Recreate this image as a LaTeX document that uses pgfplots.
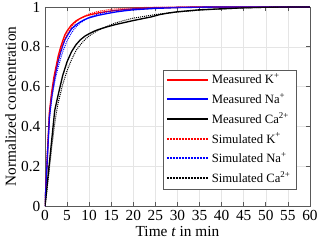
\documentclass[border=0pt]{standalone}
\usepackage{pgfplots}
\pgfplotsset{compat=1.18}
\usepackage{fontspec}
\setmainfont{Liberation Serif}
\newcommand\legsolid[1]{\draw[draw=#1, line width=1.5pt] (0pt,0pt) -- (31pt,0pt);}
\newcommand\legdot[1]{\draw[draw=#1, line width=1.5pt, dash pattern=on 1.5pt off 0.75pt] (0pt,0pt) -- (31pt,0pt);}
\begin{document}
\begin{tikzpicture}[x=1pt,y=1pt]
\begin{axis}[
  scale only axis,
  width=198.75pt, height=149.25pt,
  xmin=0, xmax=60, ymin=0, ymax=1,
  xtick={0,5,...,60}, ytick={0,0.2,...,1},
  yticklabels={0,0.2,0.4,0.6,0.8,1},
  /pgf/number format/assume math mode=true,
  tick align=inside, tick pos=both,
  major tick length=3pt,
  grid=major,
  major grid style={gray!20, line width=0.4pt},
  axis line style={gray!70!black, line width=0.5pt},
  tick style={gray!70!black, line width=0.5pt},
  ticklabel style={font=\fontsize{11.5}{13}\selectfont},
  label style={font=\fontsize{11.5}{13}\selectfont},
  xlabel={Time \textit{t} in min},
  ylabel={Normalized concentration},
  xlabel style={yshift=3pt},
  ylabel style={yshift=-3pt},
  legend cell align=left,
  legend style={at={(0.9475,0.085)}, anchor=south east, font=\fontsize{9.5}{11}\selectfont,
    draw=gray!70!black, row sep=1.5pt, inner xsep=2pt, inner ysep=1pt},
]
\addplot[color=red, solid, line width=1pt, legend image code/.code={\legsolid{red}}] coordinates {
(0,0) (1,0.47) (1.5,0.57) (2,0.645) (2.5,0.70) (3,0.755) (3.5,0.795) (4,0.83) (4.5,0.86) (5,0.88) (6,0.91) (7,0.93) (8,0.943) (9,0.953) (10,0.96) (12,0.97) (14,0.977) (16,0.983) (18,0.987) (20,0.99) (25,0.995) (30,0.998) (35,1) (60,1)};
\addlegendentry{Measured K\textsuperscript{+}}
\addplot[color=blue, solid, line width=1pt, legend image code/.code={\legsolid{blue}}] coordinates {
(0,0) (1,0.45) (1.5,0.55) (2,0.62) (2.5,0.68) (3,0.73) (3.5,0.77) (4,0.805) (4.5,0.835) (5,0.855) (6,0.89) (7,0.91) (8,0.925) (9,0.937) (10,0.946) (12,0.958) (14,0.967) (16,0.975) (18,0.981) (20,0.986) (25,0.993) (30,0.997) (35,0.999) (40,1) (60,1)};
\addlegendentry{Measured Na\textsuperscript{+}}
\addplot[color=black, solid, line width=1pt, legend image code/.code={\legsolid{black}}] coordinates {
(0,0) (2.2,0.48) (3,0.56) (4,0.655) (5,0.725) (6,0.775) (7,0.81) (8,0.835) (9,0.853) (10,0.866) (11,0.877) (12,0.886) (14,0.9) (16,0.912) (18,0.922) (20,0.932) (22,0.941) (24,0.95) (26,0.962) (28,0.97) (30,0.976) (35,0.986) (40,0.991) (45,0.996) (50,0.999) (55,1) (60,1)};
\addlegendentry{Measured Ca\textsuperscript{2+}}
\addplot[color=red, dash pattern=on 0.75pt off 0.75pt, line width=0.75pt, legend image code/.code={\legdot{red}}] coordinates {
(0,0) (0.5,0.27) (1,0.46) (1.5,0.56) (2,0.635) (2.5,0.69) (3,0.74) (4,0.815) (5,0.865) (6,0.90) (7,0.925) (8,0.943) (10,0.965) (12,0.978) (15,0.989) (20,0.996) (25,0.999) (30,1) (60,1)};
\addlegendentry{Simulated K\textsuperscript{+}}
\addplot[color=blue, dash pattern=on 0.75pt off 0.75pt, line width=0.75pt, legend image code/.code={\legdot{blue}}] coordinates {
(0,0) (0.5,0.25) (1,0.44) (1.5,0.53) (2,0.60) (2.5,0.655) (3,0.70) (4,0.775) (5,0.83) (6,0.87) (7,0.90) (8,0.92) (10,0.948) (12,0.965) (15,0.98) (20,0.992) (25,0.997) (30,0.999) (35,1) (60,1)};
\addlegendentry{Simulated Na\textsuperscript{+}}
\addplot[color=black, dash pattern=on 0.75pt off 0.75pt, line width=0.75pt, legend image code/.code={\legdot{black}}] coordinates {
(0,0) (0.5,0.09) (1,0.19) (1.5,0.29) (2,0.38) (2.5,0.46) (3,0.52) (4,0.61) (5,0.68) (6,0.735) (7,0.78) (8,0.81) (9,0.835) (10,0.855) (12,0.883) (14,0.903) (16,0.92) (18,0.933) (20,0.944) (25,0.962) (30,0.975) (35,0.984) (40,0.99) (45,0.995) (50,0.998) (55,1) (60,1)};
\addlegendentry{Simulated Ca\textsuperscript{2+}}
\end{axis}
\pgfresetboundingbox
\path[use as bounding box] ([xshift=-33.75pt,yshift=-30pt]current axis.south west) rectangle ([xshift=7.5pt,yshift=5.25pt]current axis.north east);
\end{tikzpicture}
\end{document}
